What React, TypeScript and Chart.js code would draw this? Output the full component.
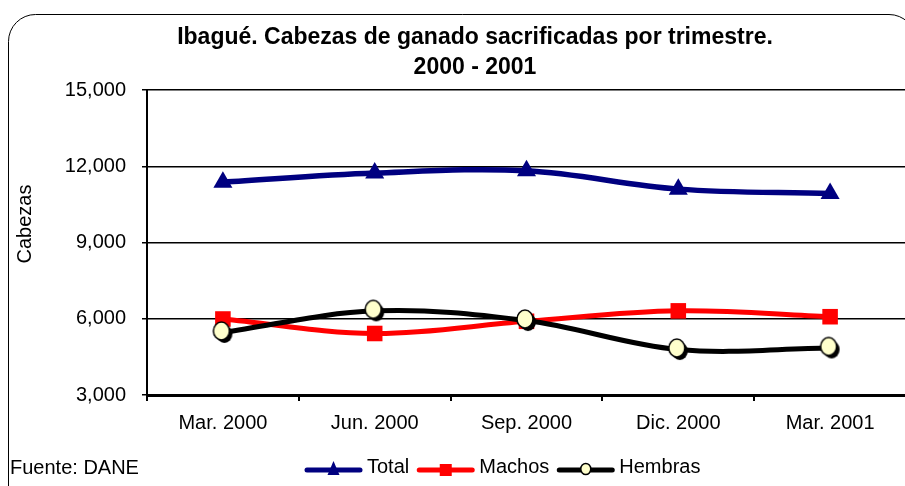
import React, { useEffect, useRef } from 'react';
import { Chart, registerables } from 'chart.js';

Chart.register(...registerables);

const categories = ['Mar. 2000', 'Jun. 2000', 'Sep. 2000', 'Dic. 2000', 'Mar. 2001'];
const totalValues = [11370, 11730, 11820, 11100, 10930];
const machosValues = [5990, 5420, 5900, 6310, 6080];
const hembrasValues = [5460, 6310, 5930, 4790, 4850];
const yTickValues = [3000, 6000, 9000, 12000, 15000];
const titleLines = ['Ibagué. Cabezas de ganado sacrificadas por trimestre.', '2000 - 2001'];
const seriesNames = ['Total', 'Machos', 'Hembras'];
const yAxisTitle = 'Cabezas';
const sourceNote = 'Fuente: DANE';

const FONT = '"Liberation Sans", Arial, sans-serif';
const NAVY = '#000080';
const RED = '#FF0000';
const BLACK = '#000000';
const CREAM = '#FFFFCC';
const CANVAS_W = 920;

function makeCircleMarker(rx: number, ry: number): HTMLCanvasElement {
  const c = document.createElement('canvas');
  const pad = 4;
  c.width = Math.ceil(rx * 2 + pad * 2 + 3);
  c.height = Math.ceil(ry * 2 + pad * 2 + 3);
  const ctx = c.getContext('2d')!;
  const cx = c.width / 2 - 1.5;
  const cy = c.height / 2 - 1.5;
  ctx.fillStyle = '#000';
  ctx.beginPath();
  ctx.ellipse(cx + 3, cy + 3, rx, ry, 0, 0, Math.PI * 2);
  ctx.fill();
  ctx.fillStyle = CREAM;
  ctx.strokeStyle = '#000';
  ctx.lineWidth = 1.5;
  ctx.beginPath();
  ctx.ellipse(cx, cy, rx, ry, 0, 0, Math.PI * 2);
  ctx.fill();
  ctx.stroke();
  return c;
}

const decorPlugin = {
  id: 'decor',
  beforeDraw(chart: any) {
    const ctx = chart.ctx as CanvasRenderingContext2D;
    ctx.save();
    ctx.fillStyle = '#fff';
    ctx.fillRect(0, 0, chart.width, chart.height);
    const r = 27;
    const l = 8.5, t = 14.5, rgt = 916, btm = 520;
    ctx.strokeStyle = '#000';
    ctx.lineWidth = 1;
    ctx.beginPath();
    ctx.moveTo(l, btm);
    ctx.lineTo(l, t + r);
    ctx.arcTo(l, t, l + r, t, r);
    ctx.lineTo(rgt - r, t);
    ctx.arcTo(rgt, t, rgt, t + r, r);
    ctx.lineTo(rgt, btm);
    ctx.stroke();
    ctx.restore();
  },
  afterDraw(chart: any) {
    const ctx = chart.ctx as CanvasRenderingContext2D;
    ctx.save();
    ctx.fillStyle = '#000';
    ctx.font = `bold 23px ${FONT}`;
    ctx.textAlign = 'center';
    ctx.textBaseline = 'middle';
    ctx.fillText(titleLines[0], 475, 38);
    ctx.fillText(titleLines[1], 475, 68);
    ctx.save();
    ctx.translate(25, 224);
    ctx.rotate(-Math.PI / 2);
    ctx.font = `20px ${FONT}`;
    ctx.fillText(yAxisTitle, 0, 0);
    ctx.restore();
    ctx.font = `20px ${FONT}`;
    ctx.textAlign = 'left';
    ctx.fillText(sourceNote, 10, 468);
    const colors = [NAVY, RED, BLACK];
    let x = 305;
    const ly = 470;
    seriesNames.forEach((name, i) => {
      ctx.strokeStyle = colors[i];
      ctx.lineWidth = 5;
      ctx.lineCap = 'round';
      ctx.beginPath();
      ctx.moveTo(x + 2, ly);
      ctx.lineTo(x + 55, ly);
      ctx.stroke();
      const mx = x + 28.5;
      if (i === 0) {
        ctx.fillStyle = NAVY;
        ctx.beginPath();
        ctx.moveTo(mx, ly - 9);
        ctx.lineTo(mx + 6, ly + 5);
        ctx.lineTo(mx - 6, ly + 5);
        ctx.closePath();
        ctx.fill();
      } else if (i === 1) {
        ctx.fillStyle = RED;
        ctx.fillRect(mx - 6, ly - 6, 12, 12);
      } else {
        ctx.fillStyle = CREAM;
        ctx.strokeStyle = '#000';
        ctx.lineWidth = 1.5;
        ctx.beginPath();
        ctx.ellipse(mx, ly - 1, 5, 5.5, 0, 0, Math.PI * 2);
        ctx.fill();
        ctx.stroke();
      }
      ctx.fillStyle = '#000';
      ctx.font = `20px ${FONT}`;
      ctx.textAlign = 'left';
      ctx.textBaseline = 'middle';
      const tx = x + 62;
      ctx.fillText(name, tx, 467);
      x = tx + ctx.measureText(name).width + 8;
    });
    ctx.restore();
  },
};

export default function App() {
  const ref = useRef<HTMLCanvasElement | null>(null);

  useEffect(() => {
    if (!ref.current) return;
    const hembrasMarker = makeCircleMarker(8, 9);
    const chart = new Chart(ref.current, {
      type: 'line',
      data: {
        labels: categories,
        datasets: [
          {
            label: seriesNames[2],
            data: hembrasValues,
            borderColor: BLACK,
            borderWidth: 5,
            tension: 0.35,
            pointStyle: hembrasMarker as any,
            pointRadius: 9,
            order: 0,
          },
          {
            label: seriesNames[1],
            data: machosValues,
            borderColor: RED,
            borderWidth: 5,
            tension: 0.35,
            pointStyle: 'rect',
            pointRadius: 11,
            pointBackgroundColor: RED,
            pointBorderColor: RED,
            pointBorderWidth: 0,
            order: 1,
          },
          {
            label: seriesNames[0],
            data: totalValues,
            borderColor: NAVY,
            borderWidth: 5.5,
            tension: 0.35,
            pointStyle: 'triangle',
            pointRadius: 11,
            pointBackgroundColor: NAVY,
            pointBorderColor: NAVY,
            pointBorderWidth: 0,
            order: 2,
          },
        ],
      },
      options: {
        responsive: false,
        animation: false,
        devicePixelRatio: 1,
        layout: { padding: { top: 90, left: 0, right: 0, bottom: 0 } },
        plugins: {
          legend: { display: false },
          title: { display: false },
          tooltip: { enabled: false },
        },
        scales: {
          x: {
            type: 'category',
            offset: true,
            afterFit: (scale: any) => {
              scale.height = 91;
              scale.paddingLeft = 0;
              scale.paddingRight = 0;
            },
            grid: {
              offset: true,
              drawOnChartArea: false,
              drawTicks: true,
              tickLength: 6,
              color: '#000',
              lineWidth: 2,
            },
            border: { color: '#000', width: 3 },
            ticks: {
              color: '#000',
              font: { family: FONT, size: 20 },
              padding: 10,
              maxRotation: 0,
              autoSkip: false,
            },
          },
          y: {
            min: yTickValues[0],
            max: yTickValues[yTickValues.length - 1],
            afterFit: (scale: any) => {
              scale.width = 147;
            },
            afterBuildTicks: (scale: any) => {
              scale.ticks = yTickValues.map((v) => ({ value: v }));
            },
            grid: {
              color: '#000',
              lineWidth: 1.5,
              tickLength: 5,
              drawTicks: true,
            },
            border: { color: '#000', width: 2 },
            ticks: {
              color: '#000',
              font: { family: FONT, size: 20 },
              padding: 16,
              callback: (v: any) => Number(v).toLocaleString('en-US'),
            },
          },
        },
      },
      plugins: [decorPlugin],
    });
    return () => chart.destroy();
  }, []);

  return (
    <div style={{ position: 'fixed', left: 0, top: 0, width: 905, height: 486, overflow: 'hidden', background: '#fff' }}>
      <canvas ref={ref} width={CANVAS_W} height={486} style={{ display: 'block', width: CANVAS_W, height: 486 }} />
    </div>
  );
}
